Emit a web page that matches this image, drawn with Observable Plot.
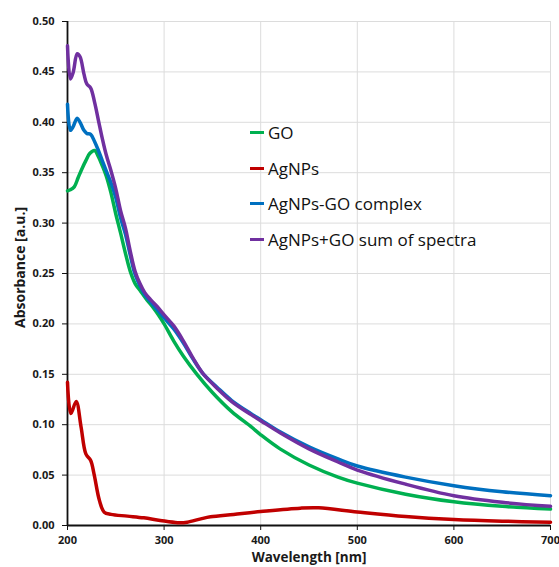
<!DOCTYPE html>
<html>
<head>
<meta charset="utf-8">
<script src="https://cdn.jsdelivr.net/npm/d3@7"></script>
<script src="https://cdn.jsdelivr.net/npm/@observablehq/plot@0.6"></script>
<style>
  html, body { margin: 0; padding: 0; background: #fff; }
  #wrap { position: relative; width: 559px; height: 567px; }
  #legend { position: absolute; left: 250px; top: 115px; font-family: "Open Sans", sans-serif; font-size: 17px; color: #111; }
  .li { display: flex; align-items: center; height: 35.5px; }
  .sw { width: 14px; height: 3px; margin-right: 4px; }
</style>
</head>
<body>
<div id="wrap"><div id="legend"></div></div>
<script>
// ---- data ----
const seriesNames = ["GO", "AgNPs", "AgNPs-GO complex", "AgNPs+GO sum of spectra"];
const seriesColors = ["#00B050", "#C00000", "#0070C0", "#7030A0"];

const goWl  = [200,203,207,211,215,219,223,228,232,236,240,245,250,255,260,265,270,276,282,288,294,300,310,320,334,350,370,390,400,420,450,480,500,550,600,650,700];
const goAbs = [0.332,0.333,0.336,0.345,0.354,0.362,0.369,0.372,0.366,0.357,0.347,0.330,0.309,0.290,0.270,0.252,0.240,0.232,0.224,0.217,0.209,0.200,0.183,0.168,0.150,0.132,0.113,0.098,0.090,0.076,0.060,0.048,0.042,0.031,0.0235,0.019,0.0163];

const agWl  = [200,203.5,209,214,219,224,227.5,233,238,245,262,279,296,314,324,338,348,372,400,441,460,500,550,600,650,700];
const agAbs = [0.142,0.111,0.123,0.098,0.071,0.0645,0.051,0.025,0.0132,0.011,0.0093,0.0076,0.005,0.0028,0.0033,0.0066,0.0086,0.011,0.0138,0.0172,0.0175,0.0135,0.009,0.006,0.0043,0.0033];

const cxWl  = [200,203,206,210,213,217,220,224,228,232,236,240,245,250,255,260,265,270,275,280,286,293,300,310,320,330,340,355,370,390,400,420,450,480,500,550,600,650,700];
const cxAbs = [0.418,0.392,0.396,0.404,0.400,0.392,0.389,0.388,0.381,0.372,0.362,0.352,0.340,0.325,0.305,0.289,0.268,0.249,0.238,0.229,0.222,0.214,0.206,0.195,0.181,0.165,0.151,0.137,0.124,0.111,0.105,0.093,0.078,0.066,0.059,0.048,0.0395,0.0335,0.0296];

const smWl  = [200,203,206,210,213,217,220,224,228,232,236,240,245,250,255,260,265,270,275,280,286,293,300,310,320,330,340,355,370,390,400,420,450,480,500,550,600,650,700];
const smAbs = [0.476,0.443,0.450,0.468,0.465,0.448,0.438,0.434,0.420,0.402,0.384,0.368,0.352,0.334,0.312,0.295,0.272,0.252,0.240,0.231,0.224,0.217,0.209,0.198,0.183,0.166,0.151,0.136,0.123,0.110,0.104,0.092,0.076,0.063,0.055,0.041,0.0295,0.023,0.019];

const xTicks = [200, 300, 400, 500, 600, 700];
const yTicks = [0, 0.05, 0.10, 0.15, 0.20, 0.25, 0.30, 0.35, 0.40, 0.45, 0.50];
const xTitle = "Wavelength [nm]";
const yTitle = "Absorbance [a.u.]";

// ---- build table ----
const pairs = [[goWl, goAbs], [agWl, agAbs], [cxWl, cxAbs], [smWl, smAbs]];
const rows = [];
pairs.forEach(([w, a], k) => w.forEach((x, i) => rows.push({wl: x, abs: a[i], series: seriesNames[k]})));

const chart = Plot.plot({
  width: 559,
  height: 567,
  marginLeft: 67,
  marginRight: 9,
  marginTop: 21,
  marginBottom: 42,
  style: {fontFamily: "'Open Sans', sans-serif", fontSize: "11px", fontWeight: "bold", color: "#1a1a1a", background: "#fff"},
  x: {domain: [200, 700]},
  y: {domain: [0, 0.5]},
  color: {domain: seriesNames, range: seriesColors},
  marks: [
    Plot.gridX(xTicks, {stroke: "#dcdcdc", strokeOpacity: 1, strokeWidth: 1}),
    Plot.gridY(yTicks, {stroke: "#dcdcdc", strokeOpacity: 1, strokeWidth: 1}),
    Plot.axisX(xTicks, {tickSize: 5, tickPadding: 6, tickFormat: d => String(d), label: null, stroke: "#111", fill: "#1a1a1a"}),
    Plot.axisY(yTicks, {tickSize: 5, tickPadding: 8, tickFormat: d3.format(".2f"), label: null, stroke: "#111", fill: "#1a1a1a"}),
    Plot.ruleX([200], {stroke: "#111", strokeWidth: 1.8}),
    Plot.ruleY([0], {stroke: "#111", strokeWidth: 1.8}),
    Plot.line(rows, {x: "wl", y: "abs", z: "series", stroke: "series", strokeWidth: 3.5, curve: "catmull-rom"}),
    Plot.text([xTitle], {frameAnchor: "bottom", dy: 36, fontSize: 13.5, fontWeight: "bold", fill: "#1a1a1a"}),
    Plot.text([yTitle], {frameAnchor: "left", textAnchor: "middle", dx: -47, dy: -6, rotate: -90, fontSize: 14, fontWeight: "bold", fill: "#1a1a1a"})
  ]
});
document.getElementById("wrap").prepend(chart);

const legend = document.getElementById("legend");
seriesNames.forEach((n, i) => {
  const d = document.createElement("div");
  d.className = "li";
  d.innerHTML = `<span class="sw" style="background:${seriesColors[i]}"></span><span>${n}</span>`;
  legend.appendChild(d);
});
</script>
</body>
</html>
